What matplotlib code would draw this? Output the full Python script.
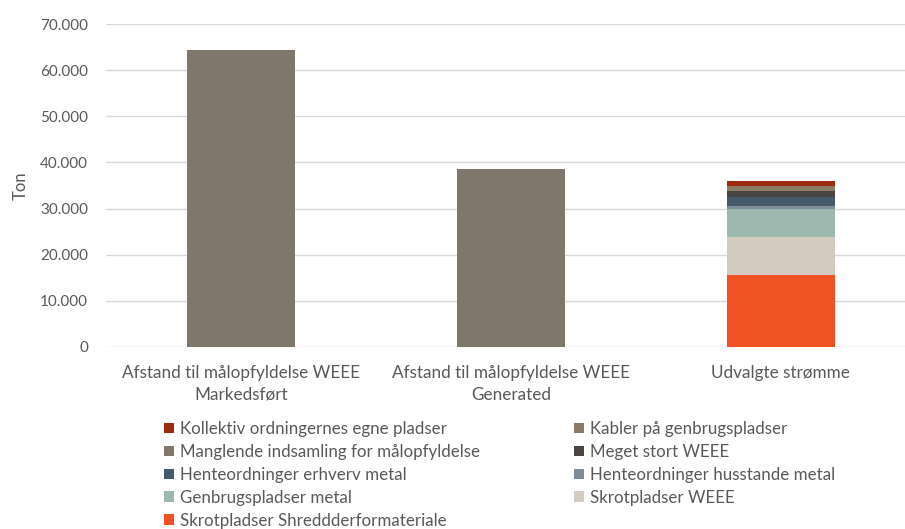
import matplotlib.pyplot as plt
import numpy as np
from matplotlib.patches import Patch
from matplotlib.ticker import FuncFormatter

plt.rcParams['font.family'] = ['Lato', 'DejaVu Sans']

categories = ['Afstand til målopfyldelse WEEE\nMarkedsført',
              'Afstand til målopfyldelse WEEE\nGenerated',
              'Udvalgte strømme']

# series in stacking order (bottom -> top), values in ton per category
series = ['Skrotpladser Shreddderformateriale',
          'Skrotpladser WEEE',
          'Genbrugspladser metal',
          'Henteordninger husstande metal',
          'Henteordninger erhverv metal',
          'Meget stort WEEE',
          'Manglende indsamling for målopfyldelse',
          'Kabler på genbrugspladser',
          'Kollektiv ordningernes egne pladser']
shredder = [0, 0, 15600]
skrot_weee = [0, 0, 8200]
genbrug_metal = [0, 0, 6100]
hente_husstande = [0, 0, 550]
hente_erhverv = [0, 0, 1950]
meget_stort = [0, 0, 1300]
manglende = [64300, 38600, 0]
kabler = [0, 0, 1100]
kollektiv = [0, 0, 1100]
values = [shredder, skrot_weee, genbrug_metal, hente_husstande, hente_erhverv,
          meget_stort, manglende, kabler, kollektiv]

colors = ['#F05223', '#D3CBC0', '#9DB8AE', '#7F8C99', '#44596A',
          '#4B4643', '#7F766C', '#8B7A66', '#9E2A0F']

text_color = '#595959'

fig = plt.figure(figsize=(9.05, 5.29), dpi=100)
ax = fig.add_axes([106 / 905, 182 / 529, 799 / 905, 323 / 529])

x = np.arange(len(categories))
bottom = np.zeros(len(categories))
for name, vals, c in zip(series, values, colors):
    ax.bar(x, vals, bottom=bottom, width=0.4, color=c, label=name, zorder=3)
    bottom += np.array(vals)

ax.set_xlim(-0.5, 2.46)
ax.set_ylim(0, 70000)
ax.set_yticks(np.arange(0, 70001, 10000))
ax.yaxis.set_major_formatter(FuncFormatter(lambda v, p: f'{int(v):,}'.replace(',', '.')))
ax.set_xticks(x)
ax.set_xticklabels(categories, fontsize=12.3, color=text_color, linespacing=1.45)
ax.tick_params(axis='y', length=0, labelsize=11, labelcolor=text_color, pad=13)
ax.tick_params(axis='x', length=0, pad=13)
ax.grid(axis='y', color='#D9D9D9', linewidth=1, zorder=0)
for s in ax.spines.values():
    s.set_visible(False)
ax.set_ylabel('Ton', fontsize=12, color=text_color, labelpad=8)

# legend (two columns, Excel-like reversed order)
handles = {n: Patch(facecolor=c) for n, c in zip(series, colors)}
col1 = ['Kollektiv ordningernes egne pladser', 'Manglende indsamling for målopfyldelse',
        'Henteordninger erhverv metal', 'Genbrugspladser metal',
        'Skrotpladser Shreddderformateriale']
col2 = ['Kabler på genbrugspladser', 'Meget stort WEEE',
        'Henteordninger husstande metal', 'Skrotpladser WEEE']
for names, xpos in [(col1, 164 / 905), (col2, 574 / 905)]:
    fig.legend([handles[n] for n in names], names, loc='upper left',
               bbox_to_anchor=(xpos, 1 - 421 / 529), frameon=False,
               fontsize=12.2, labelcolor=text_color, handlelength=0.6,
               handleheight=0.6, handletextpad=0.35, labelspacing=0.41,
               borderpad=0, borderaxespad=0)

fig.savefig('out.png', dpi=100)
